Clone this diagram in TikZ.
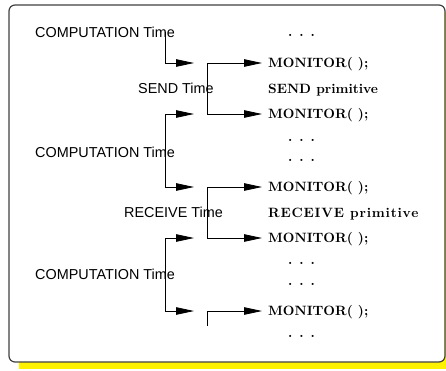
\documentclass[tikz,border=0pt]{standalone}
\usepackage{fontspec}
\newfontfamily\labelfont{Liberation Sans}
\newfontfamily\codefont{lmroman10-bold.otf}
\usetikzlibrary{arrows.meta}

\begin{document}
\begin{tikzpicture}[x=1pt,y=-1pt,
  timelabel/.style={anchor=base west, inner sep=0pt, font=\labelfont\fontsize{14.4}{16}\selectfont},
  codeline/.style={anchor=base west, inner sep=0pt, font=\codefont\fontsize{13.5}{16}\selectfont},
  flow/.style={line width=0.8pt, -{Triangle[length=18pt,width=7.5pt]}},
  flowboth/.style={line width=0.8pt, {Triangle[length=18pt,width=7.5pt]}-{Triangle[length=18pt,width=7.5pt]}}]
\useasboundingbox (0,0) rectangle (446,370);

% panel with its yellow drop shadow
\fill[yellow] (19,12) rectangle (460,369);
\draw[black!75, line width=1.2pt, fill=white, rounded corners=6pt] (9,5) rectangle (445,362);

% phase labels on the left
\node[timelabel] (comp1) at (35,37)    {COMPUTATION Time};
\node[timelabel] (send)  at (138,93.5) {SEND Time};
\node[timelabel] (comp2) at (35,157)   {COMPUTATION Time};
\node[timelabel] (recv)  at (124,217.5){RECEIVE Time};
\node[timelabel] (comp3) at (35,279)   {COMPUTATION Time};

% program text on the right
\node[codeline] (dots1) at (288,36.5)  {. . .};
\node[codeline] (mon1)  at (268,67.7)  {MONITOR( );};
\node[codeline] (sendp) at (268,93.2)  {SEND primitive};
\node[codeline] (mon2)  at (268,118.7) {MONITOR( );};
\node[codeline] (dots2) at (288,141)   {. . .};
\node[codeline] (dots3) at (288,161)   {. . .};
\node[codeline] (mon3)  at (268,191.4) {MONITOR( );};
\node[codeline] (recvp) at (268,217.3) {\addfontfeature{LetterSpace=6}RECEIVE primitive};
\node[codeline] (mon4)  at (268,242.7) {MONITOR( );};
\node[codeline] (dots4) at (288,264.5) {. . .};
\node[codeline] (dots5) at (288,285.5) {. . .};
\node[codeline] (mon5)  at (268,315.7) {MONITOR( );};
\node[codeline] (dots6) at (288,337.5) {. . .};

% bracket corner points
\coordinate (c1top) at (165.7,32);
\coordinate (c1tip) at (194,63);
\coordinate (s1a)   at (262,63);
\coordinate (s1mid) at (207.3,88);
\coordinate (s1b)   at (262,114);
\coordinate (c2a)   at (194,114);
\coordinate (c2mid) at (165.7,150);
\coordinate (c2b)   at (194,187);
\coordinate (r1a)   at (262,187);
\coordinate (r1mid) at (207.3,212);
\coordinate (r1b)   at (262,238);
\coordinate (c3a)   at (194,238);
\coordinate (c3mid) at (165.7,275);
\coordinate (c3b)   at (194,311);
\coordinate (lastbot) at (207.3,326);
\coordinate (lasttip) at (262,311);

% brackets marking each phase
\draw[flow] (c1top) |- (c1tip);
\draw[flowboth] (s1a) -| (s1mid) |- (s1b);
\draw[flowboth] (c2a) -| (c2mid) |- (c2b);
\draw[flowboth] (r1a) -| (r1mid) |- (r1b);
\draw[flowboth] (c3a) -| (c3mid) |- (c3b);
\draw[flow] (lastbot) |- (lasttip);
\end{tikzpicture}
\end{document}
